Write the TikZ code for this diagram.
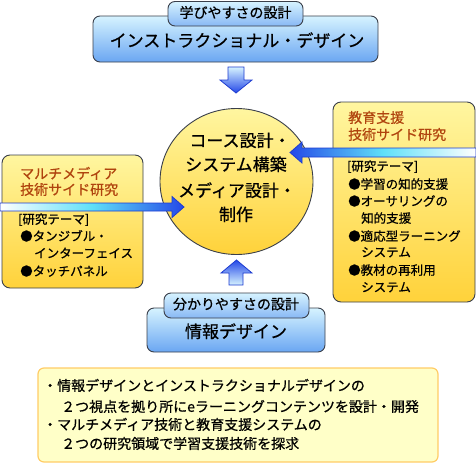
\documentclass[tikz,border=0pt]{standalone}
\usepackage{fontspec}
\setmainfont{Noto Sans CJK JP}[FakeBold=0.7]
\usetikzlibrary{shapes.geometric}
\definecolor{boxline}{HTML}{3A3F4A}
\definecolor{bluetop}{HTML}{D6F3FF}
\definecolor{bluebot}{HTML}{6AA6F2}
\definecolor{yeltop}{HTML}{FFF6A0}
\definecolor{yelbot}{HTML}{FFD23A}
\definecolor{arrowblue}{HTML}{2448E8}
\definecolor{arrowline}{HTML}{1E3CD0}
\definecolor{arrowcyan}{HTML}{5FE0F8}
\definecolor{titlebrown}{HTML}{B0440E}
\definecolor{notefill}{HTML}{FFFFC8}
\definecolor{noteline}{HTML}{FFCC66}
\tikzset{
  bluebox/.style={draw=boxline, line width=0.9pt, rounded corners=7pt, top color=bluetop, bottom color=bluebot},
  bluetab/.style={draw=boxline, line width=0.9pt, rounded corners=7pt, top color=bluetop, bottom color=bluebot!80},
  yelbox/.style={draw=boxline, line width=0.9pt, rounded corners=8pt, top color=yeltop, bottom color=yelbot},
  txt/.style={inner sep=0pt, text height=0.88em, text depth=0.12em},
  big/.style={txt, font=\fontsize{17pt}{17pt}\selectfont},
  mid/.style={txt, font=\fontsize{14pt}{14pt}\selectfont},
  small/.style={txt, font=\fontsize{12.5pt}{12.5pt}\selectfont},
  ttl/.style={mid, text=titlebrown},
  blockarrow/.style={draw=arrowline, line width=0.8pt, line join=miter},
}
\begin{document}
\begin{tikzpicture}[x=1pt,y=-1pt]
\useasboundingbox (0,0) rectangle (476,463);

% top box
\draw[bluebox] (93,16) rectangle (378,62);
\node[big] (idtext) at (237,43) {インストラクショナル・デザイン};
\draw[bluetab] (168,1.5) rectangle (303,26);
\node[mid] (idtab) at (235.5,14) {学びやすさの設計};

% down arrow
\draw[blockarrow, top color=bluetop, bottom color=arrowblue]
  (228,67) -- (244,67) -- (244,80) -- (252,80) -- (236,93) -- (220,80) -- (228,80) -- cycle;

% circle
\node[draw=boxline, line width=0.9pt, ellipse, minimum width=153pt, minimum height=146pt, top color=yeltop, bottom color=yelbot, inner sep=0pt] (core) at (236.5,181.5) {};
\node[big] (c1) at (240,143) {コース設計・};
\node[big] (c2) at (236,167) {システム構築};
\node[big] (c3) at (237,193) {メディア設計・};
\node[big] (c4) at (236,217) {制作};

% left box
\draw[yelbox] (2,155) rectangle (143,288);
\node[ttl, anchor=west] (lt1) at (20,175) {マルチメディア};
\node[ttl, anchor=west] (lt2) at (20,191) {技術サイド研究};
\node[small, anchor=west] (li0) at (18,220) {[研究テーマ]};
\node[small, anchor=west] (li1) at (20,237) {●タンジブル・};
\node[small, anchor=west] (li2) at (34,254) {インターフェイス};
\node[small, anchor=west] (li3) at (20,272) {●タッチパネル};

% right box
\draw[yelbox] (333,102) rectangle (475,302);
\node[ttl, anchor=west] (rt1) at (348,119) {教育支援};
\node[ttl, anchor=west] (rt2) at (348,136) {技術サイド研究};
\node[small, anchor=west] (ri0) at (347,167) {[研究テーマ]};
\node[small, anchor=west] (ri1) at (348,185) {●学習の知的支援};
\node[small, anchor=west] (ri2) at (348,202) {●オーサリングの};
\node[small, anchor=west] (ri3) at (361,219) {知的支援};
\node[small, anchor=west] (ri4) at (348,237) {●適応型ラーニング};
\node[small, anchor=west] (ri5) at (361,253) {システム};
\node[small, anchor=west] (ri6) at (348,271) {●教材の再利用};
\node[small, anchor=west] (ri7) at (361,288) {システム};

% left horizontal arrow
\draw[blockarrow, left color=white, right color=arrowblue, middle color=arrowcyan]
  (0,203) -- (172,203) -- (172,196.5) -- (184,207) -- (172,217.5) -- (172,211) -- (0,211) -- cycle;
% right horizontal arrow
\draw[blockarrow, left color=arrowblue, right color=white, middle color=arrowcyan]
  (476,148) -- (302,148) -- (302,142) -- (290,152.5) -- (302,163) -- (302,157) -- (476,157) -- cycle;

% up arrow
\draw[blockarrow, top color=arrowblue, bottom color=bluetop]
  (229,285) -- (243,285) -- (243,273) -- (252,273) -- (236.5,260) -- (221,273) -- (229,273) -- cycle;

% bottom box
\draw[bluebox] (147,308) rectangle (325,352);
\node[big] (infotext) at (236,334) {情報デザイン};
\draw[bluetab] (164,293) rectangle (309,318);
\node[mid] (infotab) at (236,305.5) {分かりやすさの設計};

% note box
\draw[draw=noteline, fill=notefill, line width=1.2pt, rounded corners=6pt] (38,368) rectangle (438,462);
\node[mid, anchor=west] (n1) at (43,387) {・情報デザインとインストラクショナルデザインの};
\node[mid, anchor=west] (n2) at (61,408) {２つ視点を拠り所にeラーニングコンテンツを設計・開発};
\node[mid, anchor=west] (n3) at (43,426) {・マルチメディア技術と教育支援システムの};
\node[mid, anchor=west] (n4) at (61,445) {２つの研究領域で学習支援技術を探求};
\end{tikzpicture}
\end{document}
